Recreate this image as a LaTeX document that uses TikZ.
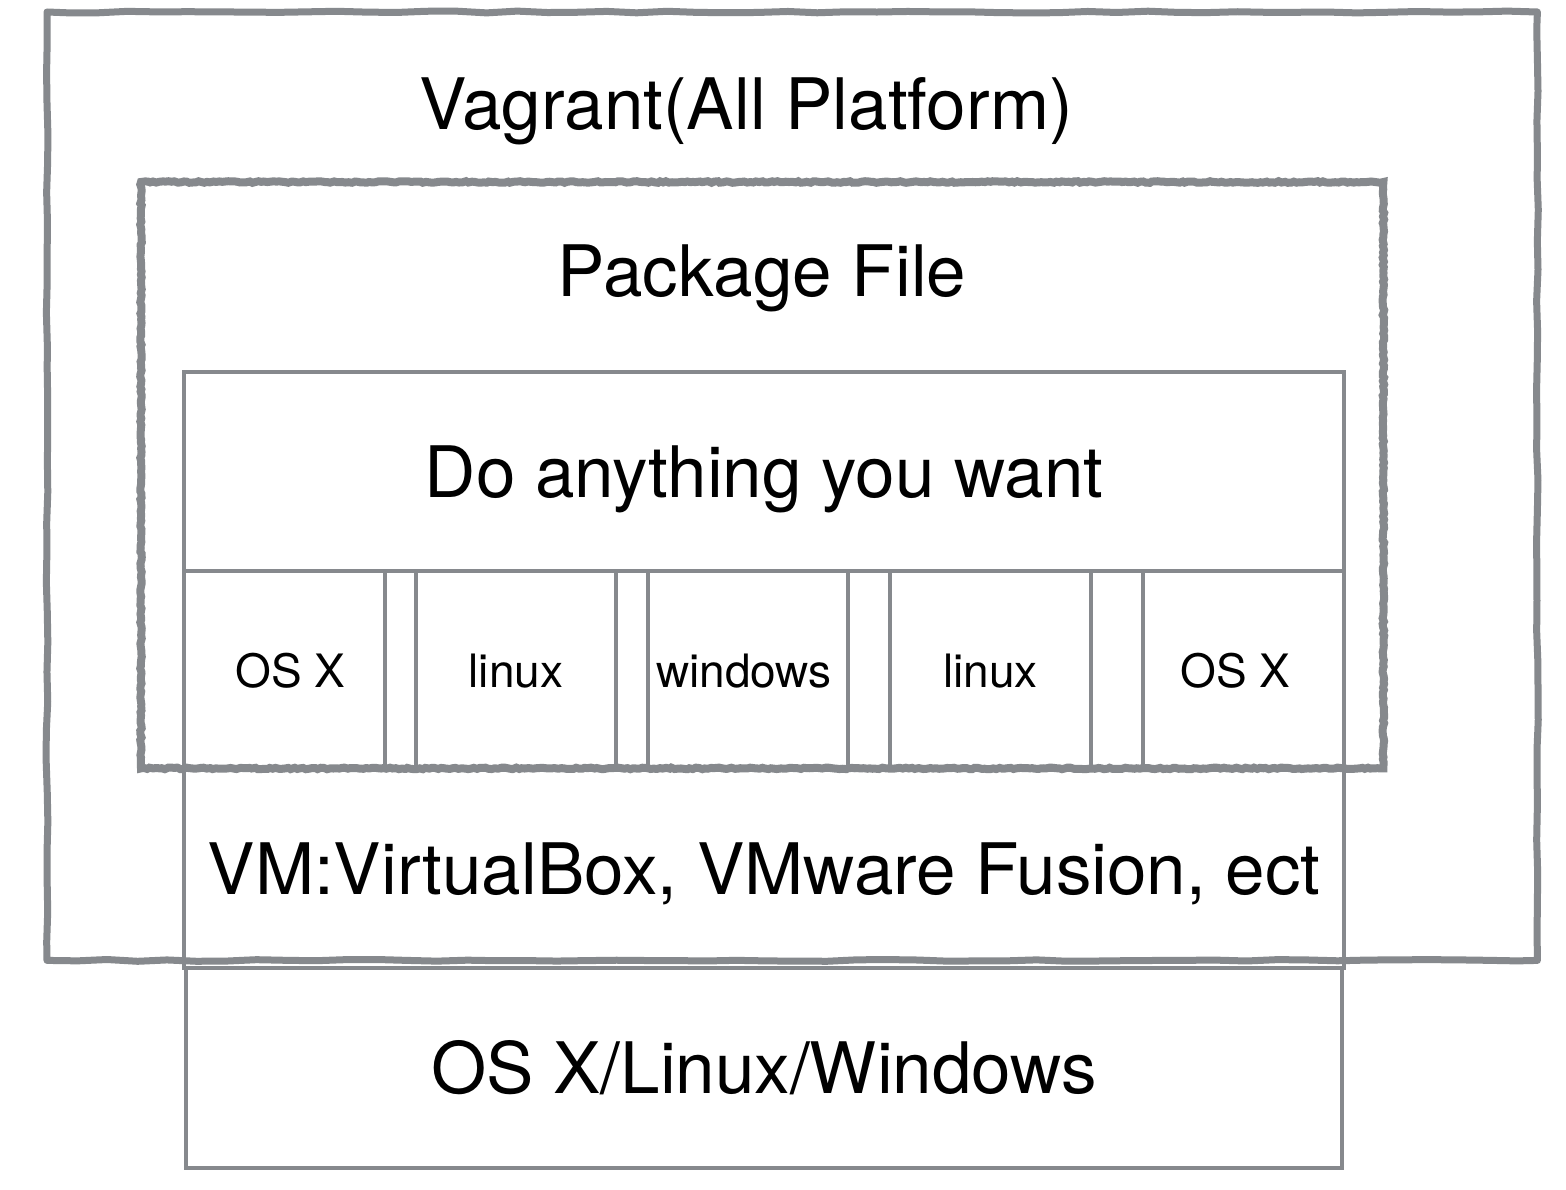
\documentclass[tikz,border=0pt]{standalone}
\usepackage{fontspec}
\setmainfont{TeX Gyre Heros}
\usetikzlibrary{decorations.pathmorphing}
\definecolor{boxgray}{HTML}{86898D}
\begin{document}
\begin{tikzpicture}[x=1pt,y=-1pt,
  box/.style={draw=boxgray, line width=4pt, rectangle, inner sep=0pt, anchor=north west},
  big/.style={font=\fontsize{71}{80}\selectfont, text height=51pt, text depth=0pt},
  small/.style={font=\fontsize{46}{54}\selectfont, text height=33pt, text depth=0pt},
  sketch/.style={draw=boxgray, line width=7pt, line join=round, line cap=round, decorate,
    decoration={random steps, segment length=30pt, amplitude=0.9pt}},
  rough/.style={draw=boxgray, line width=8pt, line join=miter, decorate,
    decoration={random steps, segment length=3pt, amplitude=0.8pt}}]
\pgfmathsetseed{7}
\useasboundingbox (0,0) rectangle (1566,1190);
\fill[white] (0,0) rectangle (1566,1190);
% outer Vagrant frame
\node[anchor=north west, minimum width=1490pt, minimum height=948pt, inner sep=0pt] (vagrant) at (47,12) {};
\node[big] (vagrantlbl) at (746,104) {Vagrant(All Platform)};
% package file frame
\node[anchor=north west, minimum width=1242pt, minimum height=586pt, inner sep=0pt] (package) at (141,182) {};
\node[big] (packagelbl) at (762,271) {Package File};
% inner boxes
\node[box, minimum width=1160pt, minimum height=199pt, big] (doany) at (182,370) {Do anything you want};
\node[box, minimum width=201pt, minimum height=199pt] (os1) at (182,569) {};
\node[box, minimum width=200pt, minimum height=199pt] (lin1) at (414,569) {};
\node[box, minimum width=200pt, minimum height=199pt] (win) at (646,569) {};
\node[box, minimum width=201pt, minimum height=199pt] (lin2) at (888,569) {};
\node[box, minimum width=201pt, minimum height=199pt] (os2) at (1141,569) {};
\node[small] (os1lbl) at ([xshift=6pt]os1.center) {OS X};
\node[small] (lin1lbl) at (lin1.center) {linux};
\node[small] (winlbl) at ([xshift=-4pt]win.center) {windows};
\node[small] (lin2lbl) at (lin2.center) {linux};
\node[small] (os2lbl) at ([xshift=-8pt]os2.center) {OS X};
\node[box, minimum width=1160pt, minimum height=198pt, big] (vm) at (182,768) {VM:VirtualBox, VMware Fusion, ect};
\node[box, minimum width=1156pt, minimum height=200pt, big] (host) at (184,966) {OS X/Linux/Windows};
% sketchy frames
\draw[sketch] (vagrant.north west) rectangle (vagrant.south east);
\draw[rough] (package.north west) rectangle (package.south east);
\end{tikzpicture}
\end{document}
